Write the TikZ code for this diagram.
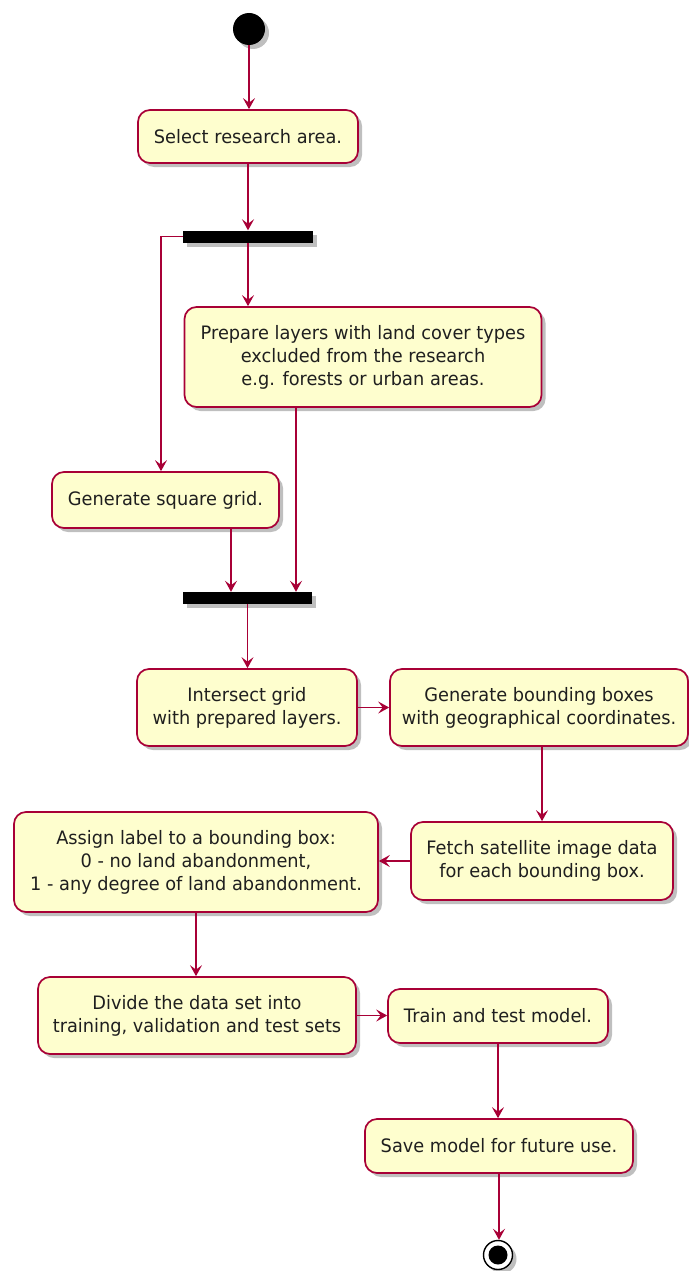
\documentclass[tikz,border=0pt]{standalone}
\usepackage{fontspec}
\setmainfont[FakeStretch=0.96]{DejaVu Sans}
\usetikzlibrary{arrows.meta,shadows}
\definecolor{pumlfill}{HTML}{FEFECE}
\definecolor{pumlred}{HTML}{A80036}
\tikzset{
  x=1pt,y=-1pt,
  act/.style={draw=pumlred, fill=pumlfill, line width=1.7pt, rounded corners=12pt,
    align=center, inner sep=0pt, font=\fontsize{18.5}{23}\selectfont, text=black!88,
    drop shadow={shadow xshift=4pt, shadow yshift=-4pt, opacity=0.25, fill=black}},
  forkbar/.style={fill=black, draw=none, inner sep=0pt, minimum height=12pt,
    drop shadow={shadow xshift=4pt, shadow yshift=-4pt, opacity=0.25, fill=black}},
  arr/.style={draw=pumlred, line width=1.5pt, -{Stealth[length=11pt,width=12pt,inset=4.5pt]}},
}
\begin{document}
\begin{tikzpicture}
\useasboundingbox (0,0) rectangle (688,1271);
% start
\node[circle, fill=black, minimum size=32pt, inner sep=0pt,
  drop shadow={shadow xshift=4pt, shadow yshift=-4pt, opacity=0.25, fill=black}] (start) at (249,29) {};
\node[act, minimum width=220pt, minimum height=53pt] (select) at (248,136.5) {Select research area.};
\node[forkbar, minimum width=130pt] (bar1) at (248,236.5) {};
\node[act, minimum width=357pt, minimum height=100pt] (prepare) at (363,357) {Prepare layers with land cover types\\excluded from the research\\e.g. forests or urban areas.};
\node[act, minimum width=227pt, minimum height=56pt] (grid) at (165.5,500) {Generate square grid.};
\node[forkbar, minimum width=129pt] (bar2) at (247.5,598) {};
\node[act, minimum width=220pt, minimum height=77pt] (inter) at (247,707.5) {Intersect grid\\with prepared layers.};
\node[act, minimum width=298pt, minimum height=77pt] (genbb) at (539,707.5) {Generate bounding boxes\\with geographical coordinates.};
\node[act, minimum width=262pt, minimum height=78pt] (fetch) at (542,861) {Fetch satellite image data\\for each bounding box.};
\node[act, minimum width=364pt, minimum height=100pt] (assign) at (196,862) {Assign label to a bounding box:\\0 - no land abandonment,\\1 - any degree of land abandonment.};
\node[act, minimum width=318pt, minimum height=77pt] (divide) at (197,1015.5) {Divide the data set into\\training, validation and test sets};
\node[act, minimum width=220pt, minimum height=54pt] (train) at (498,1016) {Train and test model.};
\node[act, minimum width=268pt, minimum height=54pt] (save) at (499,1146) {Save model for future use.};
% end
\node[circle, draw=black, line width=1.4pt, fill=white, minimum size=29pt, inner sep=0pt,
  drop shadow={shadow xshift=4pt, shadow yshift=-4pt, opacity=0.25, fill=black}] (end) at (498,1255) {};
\node[circle, fill=black, minimum size=19pt, inner sep=0pt] (endin) at (end.center) {};
% connectors
\draw[arr] (start) -- (start |- select.north);
\draw[arr] (select.south) -- (select.south |- bar1.north);
\coordinate (gtop) at ([xshift=-4.5pt]grid.north);
\draw[arr] (bar1.west) -| (gtop);
\draw[arr] (bar1.south) -- (bar1.south |- prepare.north);
\coordinate (pbot) at ([xshift=-67pt]prepare.south);
\draw[arr] (pbot) -- (pbot |- bar2.north);
\coordinate (gbot) at ([xshift=65.5pt]grid.south);
\draw[arr] (gbot) -- (gbot |- bar2.north);
\draw[arr] (bar2.south) -- (bar2.south |- inter.north);
\draw[arr] (inter.east) -- (inter.east -| genbb.west);
\draw[arr] (fetch.north |- genbb.south) -- (fetch.north);
\draw[arr] (fetch.west) -- (fetch.west -| assign.east);
\draw[arr] (assign.south) -- (assign.south |- divide.north);
\draw[arr] (divide.east) -- (divide.east -| train.west);
\draw[arr] (train.south) -- (train.south |- save.north);
\draw[arr] (save.south) -- (save.south |- end.north);
\end{tikzpicture}
\end{document}
